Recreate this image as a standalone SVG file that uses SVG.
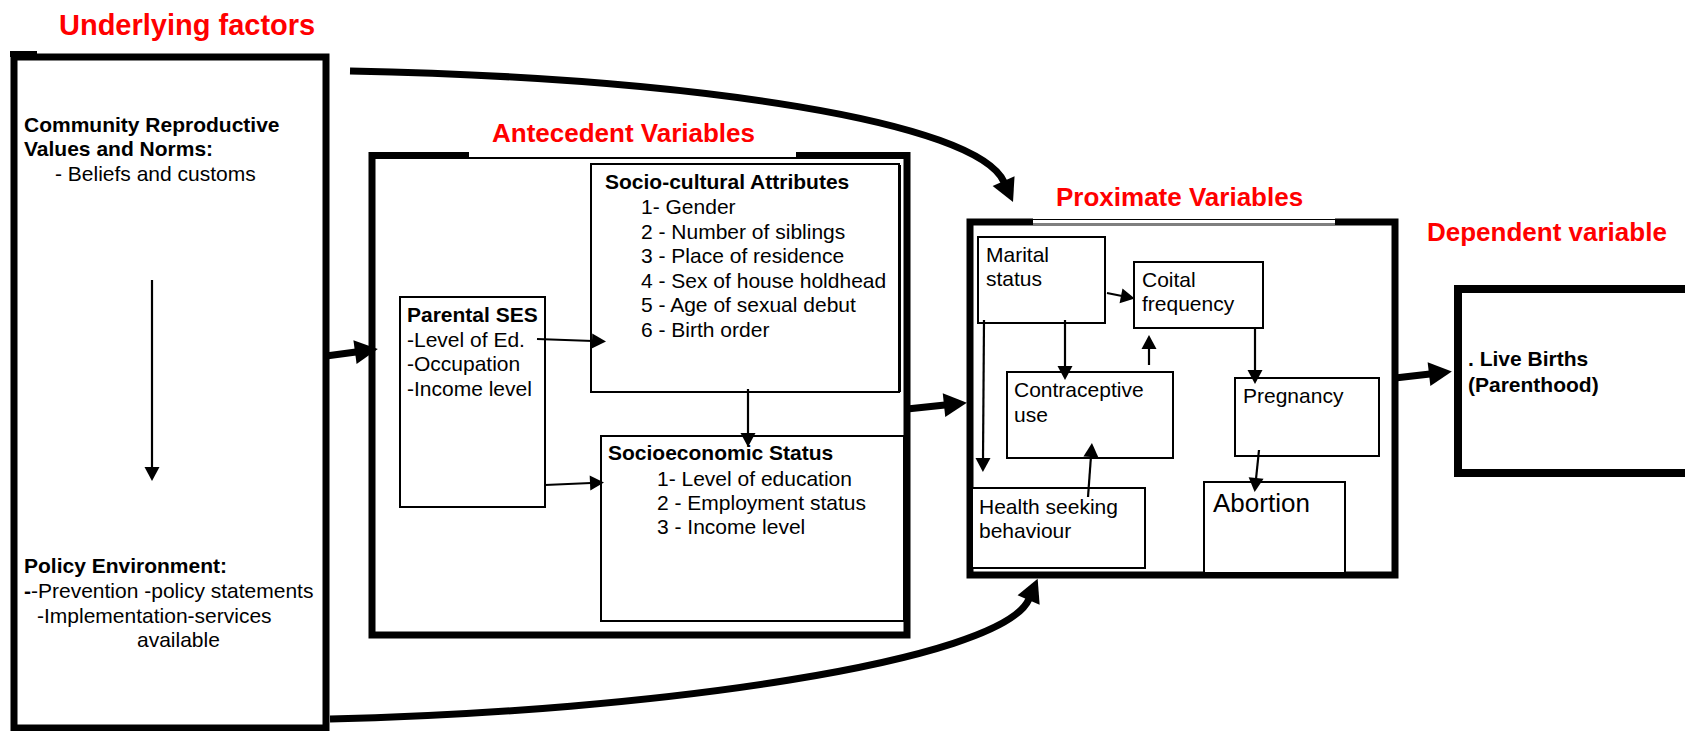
<svg xmlns="http://www.w3.org/2000/svg" width="1685" height="731" viewBox="0 0 1685 731">
<style>
text{font-family:"Liberation Sans",Arial,sans-serif;font-size:21px;fill:#000}
.b{font-weight:bold}
.h{font-weight:bold;fill:#FF0000;font-size:26px}
.thick{fill:#fff;stroke:#000;stroke-width:7}
.thin{fill:#fff;stroke:#000;stroke-width:2}
.big{fill:none;stroke:#000;stroke-width:7;marker-end:url(#bigHead)}
.sm{fill:none;stroke:#000;stroke-width:2.2;marker-end:url(#smHead)}
</style>
<defs>
<marker id="bigHead" markerUnits="userSpaceOnUse" markerWidth="24" markerHeight="24" refX="1" refY="12" orient="auto" overflow="visible">
<path d="M0,0 L23,12 L0,24 Z" fill="#000"/>
</marker>
<marker id="smHead" markerUnits="userSpaceOnUse" markerWidth="15" markerHeight="15" refX="1" refY="7.5" orient="auto" overflow="visible">
<path d="M0,0 L14,7.5 L0,15 Z" fill="#000"/>
</marker>
</defs>
<rect width="1685" height="731" fill="#fff"/>

<g id="underlying">
<text x="59" y="35" class="h" style="font-size:29px">Underlying factors</text>
<rect x="14" y="57" width="312" height="671" class="thick"/>
<rect x="10" y="51" width="27" height="6" fill="#000"/>
<text x="24" y="132" class="b">Community Reproductive</text>
<text x="24" y="156" class="b">Values and Norms:</text>
<text x="55" y="181">- Beliefs and customs</text>
<text x="24" y="573" class="b">Policy Environment:</text>
<text x="24" y="598"><tspan class="b">-</tspan>-Prevention -policy statements</text>
<text x="37" y="623">-Implementation-services</text>
<text x="137" y="647">available</text>
</g>

<g id="antecedent">
<text x="492" y="142" class="h">Antecedent Variables</text>
<rect x="372" y="155.5" width="535" height="479.5" class="thick"/>
<rect x="469" y="150" width="327" height="7" fill="#fff"/>
</g>

<g id="sociocultural">
<rect x="591" y="164" width="308" height="228" class="thin"/>
<line x1="900.5" y1="165" x2="900.5" y2="392" stroke="#000" stroke-width="1"/>
<text x="605" y="189" class="b">Socio-cultural Attributes</text>
<text x="641" y="214">1- Gender</text>
<text x="641" y="239">2 - Number of siblings</text>
<text x="641" y="263">3 - Place of residence</text>
<text x="641" y="288">4 - Sex of house holdhead</text>
<text x="641" y="312">5 - Age of sexual debut</text>
<text x="641" y="337">6 - Birth order</text>
</g>

<g id="parental">
<rect x="400" y="297" width="145" height="210" class="thin"/>
<text x="407" y="322" class="b">Parental SES</text>
<text x="407" y="347">-Level of Ed.</text>
<text x="407" y="371">-Occupation</text>
<text x="407" y="396">-Income level</text>
</g>

<g id="socioeconomic">
<rect x="601" y="436" width="303" height="185" class="thin"/>
<text x="608" y="460" class="b">Socioeconomic Status</text>
<text x="657" y="486">1- Level of education</text>
<text x="657" y="510">2 - Employment status</text>
<text x="657" y="534">3 - Income level</text>
</g>

<g id="proximate">
<text x="1056" y="206" class="h">Proximate Variables</text>
<rect x="970" y="222" width="425" height="353" class="thick"/>
<rect x="1033" y="217" width="302" height="8" fill="#fff"/>
<line x1="1033" y1="219.5" x2="1335" y2="219.5" stroke="#000" stroke-width="1.2"/>
<line x1="1033" y1="224" x2="1335" y2="224" stroke="#000" stroke-width="1.2"/>
</g>

<g id="marital">
<rect x="978" y="237" width="127" height="86" class="thin"/>
<text x="986" y="262">Marital</text>
<text x="986" y="286">status</text>
</g>

<g id="coital">
<rect x="1134" y="262" width="129" height="66" class="thin"/>
<text x="1142" y="287">Coital</text>
<text x="1142" y="311">frequency</text>
</g>

<g id="contraceptive">
<rect x="1007" y="372" width="166" height="86" class="thin"/>
<text x="1014" y="397">Contraceptive</text>
<text x="1014" y="422">use</text>
</g>

<g id="pregnancy">
<rect x="1235" y="378" width="144" height="78" class="thin"/>
<text x="1243" y="403">Pregnancy</text>
</g>

<g id="health">
<rect x="972" y="488" width="173" height="80" class="thin"/>
<text x="979" y="514">Health seeking</text>
<text x="979" y="538">behaviour</text>
</g>

<g id="abortion">
<rect x="1204" y="482" width="141" height="91" class="thin"/>
<text x="1213" y="512" style="font-size:26px">Abortion</text>
</g>

<g id="dependent">
<text x="1427" y="241" class="h">Dependent variable</text>
<rect x="1458" y="289" width="260" height="184" style="fill:#fff;stroke:#000;stroke-width:8"/>
<text x="1468" y="366" class="b">. Live Births</text>
<text x="1468" y="392" class="b">(Parenthood)</text>
</g>

<g id="connectors">
<path class="big" d="M350,71 C700,78 977,122 1004,182"/>
<path class="big" d="M330,719 C650,712 1002,662 1029,599"/>
<path class="big" d="M326,356 L356,352"/>
<path class="big" d="M907,409 L945,405"/>
<path class="big" d="M1395,378 L1430,374"/>
<path class="sm" d="M152,280 L152,468"/>
<path class="sm" d="M537,339 L593,341"/>
<path class="sm" d="M545,485 L591,483"/>
<path class="sm" d="M748,389 L748,434"/>
<path class="sm" d="M1107,293 L1122,296"/>
<path class="sm" d="M1065,320 L1065,367"/>
<path class="sm" d="M1149,365 L1149,348"/>
<path class="sm" d="M1255,328 L1255,371"/>
<path class="sm" d="M984,320 L983,459"/>
<path class="sm" d="M1088,497 L1091,456"/>
<path class="sm" d="M1259,450 L1256,479"/>
</g>
</svg>
